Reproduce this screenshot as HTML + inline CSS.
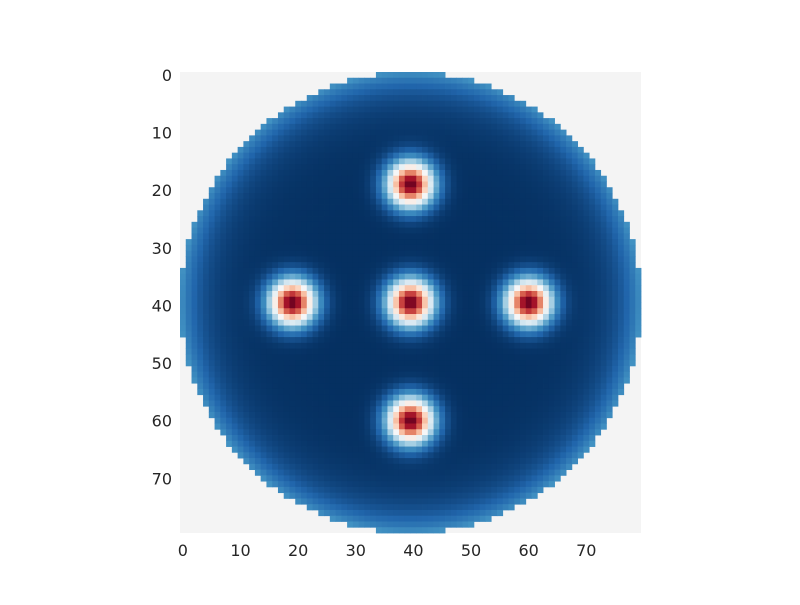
<!DOCTYPE html>
<html><head><meta charset="utf-8"><style>
body{margin:0;background:#fff;font-family:"Liberation Sans","DejaVu Sans",sans-serif}
svg text{font-family:"DejaVu Sans","Liberation Sans",sans-serif;font-size:16px;fill:#262626}
</style></head><body>
<svg id="chart" width="800" height="600" viewBox="0 0 800 600">
<rect x="180" y="72" width="461" height="461" fill="#f4f4f4"/>
<g id="cells"></g>
<g id="xt"></g>
<g id="yt"></g>
</svg>
<script>
// data
const gridSize = [80];
const peakRows = [19, 39.5, 39.5, 39.5, 60];
const peakCols = [39.5, 19, 39.5, 60, 39.5];
const peakAmps = [1, 1, 1, 1, 1];
const peakSigma = [2.7];
const diskRadius = [40];
const edgeValue = [0.2];
const edgeWidth = [3.5];
const xTicks = [0,10,20,30,40,50,60,70];
const yTicks = [0,10,20,30,40,50,60,70];

const N = gridSize[0], x0 = 180, y0 = 72, cw = 461/N;
const sx = c => x0 + c*cw, sy = r => y0 + r*cw;
const stops = ["#053061","#2166ac","#4393c3","#92c5de","#d1e5f0","#f7f7f7","#fddbc7","#f4a582","#d6604d","#b2182b","#67001f"];
function hex(h){return [1,3,5].map(i=>parseInt(h.substr(i,2),16));}
const S = stops.map(hex);
function cmap(v){v=Math.max(0,Math.min(1,v));const t=v*10,i=Math.min(9,Math.floor(t)),f=t-i;
 const c=S[i].map((a,k)=>Math.round(a+(S[i+1][k]-a)*f));return `rgb(${c})`;}
const g=document.getElementById('cells');
const ns="http://www.w3.org/2000/svg";
const cc=(N-1)/2+0.5;
for(let r=0;r<N;r++)for(let c=0;c<N;c++){
 const d=Math.hypot(r+0.5-cc,c+0.5-cc);
 if(d>diskRadius[0]) continue;
 let v=edgeValue[0]*Math.exp(-(diskRadius[0]-d)/edgeWidth[0]);
 for(let p=0;p<peakRows.length;p++){
  const dd=(r-peakRows[p])**2+(c-peakCols[p])**2;
  v+=peakAmps[p]*Math.exp(-dd/(2*peakSigma[0]**2));
 }
 const e=document.createElementNS(ns,'rect');
 
 
 e.setAttribute('x',sx(c).toFixed(2));e.setAttribute('y',sy(r).toFixed(2));
 e.setAttribute('width',(cw+0.4).toFixed(2));e.setAttribute('height',(cw+0.4).toFixed(2));
 e.setAttribute('fill',cmap(v));g.appendChild(e);
}
const xt=document.getElementById('xt'),yt=document.getElementById('yt');
xTicks.forEach(t=>{const e=document.createElementNS(ns,'text');
 
 
 e.setAttribute('x',sx(t+0.5));e.setAttribute('y',556);e.setAttribute('text-anchor','middle');e.textContent=t;xt.appendChild(e);});
yTicks.forEach(t=>{const e=document.createElementNS(ns,'text');
 
 
 e.setAttribute('x',172);e.setAttribute('y',sy(t+0.5)+6);e.setAttribute('text-anchor','end');e.textContent=t;yt.appendChild(e);});
</script>
</body></html>
